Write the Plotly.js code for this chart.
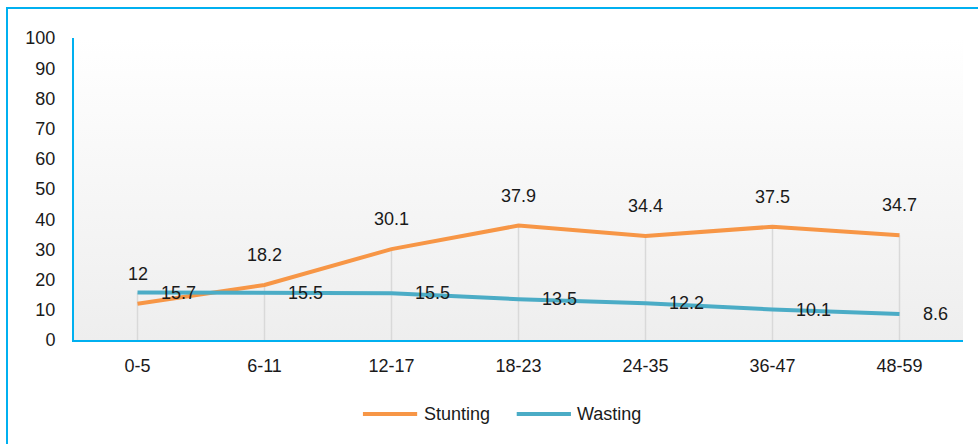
<!DOCTYPE html>
<html>
<head>
<meta charset="utf-8">
<script src="https://cdn.plot.ly/plotly-3.0.1.min.js"></script>
<style>
  html, body { margin: 0; padding: 0; background: #ffffff; overflow: hidden; }
  #wrap { position: relative; width: 978px; height: 444px; overflow: hidden; }
  #frame {
    position: absolute; left: 6px; top: 7px; width: 1000px; height: 500px;
    border: 2px solid #00b0f0; box-sizing: border-box; z-index: 0;
  }
  #chart { position: absolute; left: 0; top: 0; width: 978px; height: 444px; z-index: 1; }
</style>
</head>
<body>
<div id="wrap">
  <div id="frame"></div>
  <div id="chart"></div>
</div>
<script>
// Age groups (months)
const ageGroups = ['0-5', '6-11', '12-17', '18-23', '24-35', '36-47', '48-59'];
// Prevalence (%)
const stunting = [12, 18.2, 30.1, 37.9, 34.4, 37.5, 34.7];
const wasting = [15.7, 15.5, 15.5, 13.5, 12.2, 10.1, 8.6];
const seriesNames = ['Stunting', 'Wasting'];
const yTicks = [0, 10, 20, 30, 40, 50, 60, 70, 80, 90, 100];

const orange = '#f79646';
const aqua = '#4bacc6';
const cyan = '#00b0f0';
const textColor = '#1a1a1a';
const fontFamily = '"Liberation Sans", Arial, sans-serif';
const fontSize = 18;

// Vertical drop lines from the axis up to the higher of the two series
const dropX = [];
const dropY = [];
ageGroups.forEach((g, i) => {
  dropX.push(g, g, null);
  dropY.push(0, Math.max(stunting[i], wasting[i]), null);
});

const traces = [
  {
    x: dropX, y: dropY, type: 'scatter', mode: 'lines',
    line: { color: '#d9d9d9', width: 1.5 },
    hoverinfo: 'skip', showlegend: false
  },
  {
    x: ageGroups, y: stunting, type: 'scatter', mode: 'lines', name: seriesNames[0],
    line: { color: orange, width: 4 }, showlegend: false
  },
  {
    x: ageGroups, y: wasting, type: 'scatter', mode: 'lines', name: seriesNames[1],
    line: { color: aqua, width: 4 }, showlegend: false
  }
];

const labelFont = { family: fontFamily, size: fontSize, color: textColor };

// Value labels: stunting above its points, wasting to the right
const annotations = [];
ageGroups.forEach((g, i) => {
  annotations.push({
    x: g, y: stunting[i], xref: 'x', yref: 'y', text: String(stunting[i]),
    showarrow: false, xanchor: 'center', yanchor: 'middle', yshift: 30,
    font: labelFont
  });
  annotations.push({
    x: g, y: wasting[i], xref: 'x', yref: 'y', text: String(wasting[i]),
    showarrow: false, xanchor: 'left', yanchor: 'middle', xshift: 21,
    font: labelFont
  });
});

// Legend below the plot: a long line sample followed by the series name
const legendY = -0.245;
const legendItems = [
  { name: seriesNames[0], color: orange, x0: 0.325, x1: 0.386, tx: 0.391 },
  { name: seriesNames[1], color: aqua, x0: 0.498, x1: 0.559, tx: 0.563 }
];
const shapes = [];
legendItems.forEach(item => {
  shapes.push({
    type: 'line', xref: 'paper', yref: 'paper',
    x0: item.x0, x1: item.x1, y0: legendY, y1: legendY,
    line: { color: item.color, width: 4 }
  });
  annotations.push({
    x: item.tx, y: legendY, xref: 'paper', yref: 'paper', text: item.name,
    showarrow: false, xanchor: 'left', yanchor: 'middle', font: labelFont
  });
});

// Soft vertical gradient for the plotting area
const gradSvg = "<svg xmlns='http://www.w3.org/2000/svg' width='10' height='100' viewBox='0 0 10 100' preserveAspectRatio='none'>" +
  "<defs><linearGradient id='g' x1='0' y1='0' x2='0' y2='1'>" +
  "<stop offset='0' stop-color='#ffffff'/><stop offset='1' stop-color='#eeeeee'/>" +
  "</linearGradient></defs><rect x='0' y='0' width='10' height='100' fill='url(#g)'/></svg>";

const layout = {
  width: 978, height: 444,
  margin: { l: 74, r: 15, t: 38, b: 104 },
  paper_bgcolor: 'rgba(0,0,0,0)',
  plot_bgcolor: 'rgba(0,0,0,0)',
  font: labelFont,
  showlegend: false,
  xaxis: {
    type: 'category', range: [-0.5, 6.5],
    showgrid: false, zeroline: false,
    showline: true, linecolor: cyan, linewidth: 2,
    ticks: '', ticklabelstandoff: 8,
    tickfont: labelFont,
    fixedrange: true
  },
  yaxis: {
    range: [0, 100], tickmode: 'array', tickvals: yTicks,
    showgrid: false, zeroline: false,
    showline: true, linecolor: cyan, linewidth: 2,
    ticks: '', ticklabelstandoff: 13,
    tickfont: labelFont,
    fixedrange: true
  },
  images: [{
    source: 'data:image/svg+xml;charset=utf-8,' + encodeURIComponent(gradSvg),
    xref: 'paper', yref: 'paper', x: 0, y: 1, sizex: 1, sizey: 1,
    xanchor: 'left', yanchor: 'top', sizing: 'stretch', layer: 'below'
  }],
  shapes: shapes,
  annotations: annotations
};

Plotly.newPlot('chart', traces, layout, { displayModeBar: false, staticPlot: true });
</script>
</body>
</html>
